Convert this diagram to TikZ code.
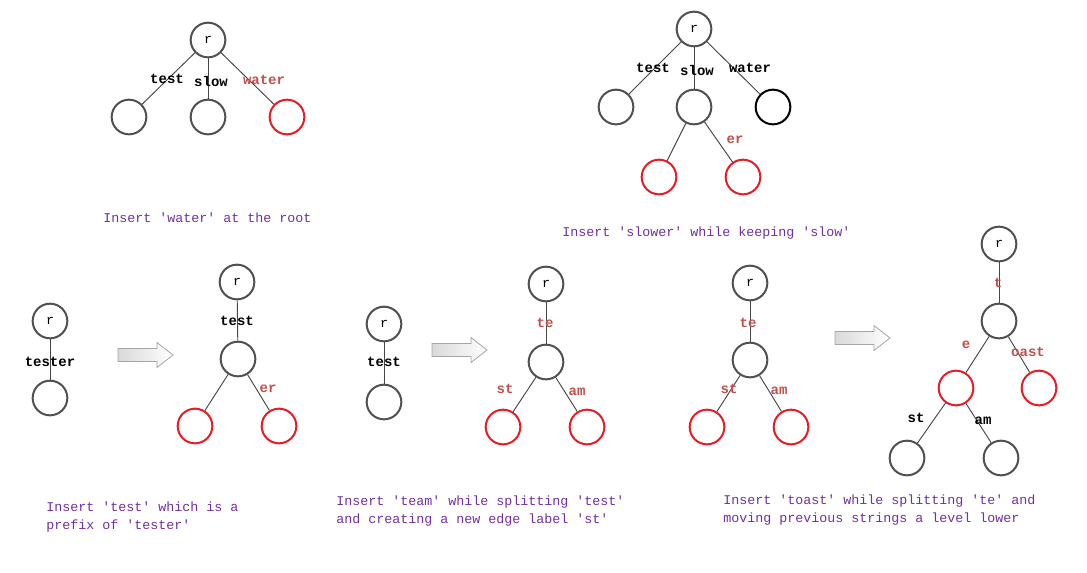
\documentclass[tikz,border=0pt]{standalone}
\usepackage{fontspec}
\setmonofont{Liberation Mono}
\usetikzlibrary{shadings}
\definecolor{nodegray}{RGB}{80,80,80}
\definecolor{nodered}{RGB}{232,28,36}
\definecolor{labred}{RGB}{192,80,77}
\definecolor{captpurple}{RGB}{112,48,160}
\definecolor{edgegray}{RGB}{70,70,70}
\newcommand\fatarrow[2]{%
  \draw[gray!70, line width=0.6pt, left color=gray!30, right color=white]
    (#1,#2-6.5) -- (#1+39,#2-6.5) -- (#1+39,#2-12.5) -- (#1+55,#2)
    -- (#1+39,#2+12.5) -- (#1+39,#2+6.5) -- (#1,#2+6.5) -- cycle;}
\begin{document}
\begin{tikzpicture}[x=0.75pt,y=-0.75pt,
  tn/.style={circle, draw=nodegray, line width=1.5pt, minimum size=26pt, inner sep=0pt, font=\ttfamily\fontsize{10}{12}\selectfont},
  rn/.style={tn, draw=nodered},
  bn/.style={tn, draw=black},
  ed/.style={draw=edgegray, line width=0.7pt},
  lab/.style={font=\ttfamily\bfseries\fontsize{10.5}{12}\selectfont, text=black, inner sep=0pt},
  rlab/.style={lab, text=labred},
  captxt/.style={font=\ttfamily\fontsize{10}{13.5}\selectfont, text=captpurple, anchor=west, align=left, inner sep=0pt}]
\useasboundingbox (0,0) rectangle (1087,572);
% ---- Tree 1
\node[tn] (a0) at (208,40) {r};
\node[tn] (a1) at (129,117) {};
\node[tn] (a2) at (208,117) {};
\node[rn] (a3) at (287,117) {};
\draw[ed] (a0) -- (a1); \draw[ed] (a0) -- (a2); \draw[ed] (a0) -- (a3);
\node[lab] (la1) at (167,79) {test};
\node[lab] (la2) at (211,81) {slow};
\node[rlab] (la3) at (264,80) {water};
\node[captxt] (c1) at (103,218) {Insert 'water' at the root};
% ---- Tree 2
\node[tn] (b0) at (694,29) {r};
\node[tn] (b1) at (616,107) {};
\node[tn] (b2) at (694,107) {};
\node[bn] (b3) at (773,107) {};
\node[rn] (b4) at (659,177) {};
\node[rn] (b5) at (743,177) {};
\draw[ed] (b0) -- (b1); \draw[ed] (b0) -- (b2); \draw[ed] (b0) -- (b3);
\draw[ed] (b2) -- (b4); \draw[ed] (b2) -- (b5);
\node[lab] (lb1) at (653,68) {test};
\node[lab] (lb2) at (697,70) {slow};
\node[lab] (lb3) at (750,68) {water};
\node[rlab] (lb4) at (735,140) {er};
\node[captxt] (c2) at (562,233) {Insert 'slower' while keeping 'slow'};
% ---- Tree 3
\node[tn] (c0n) at (50,321) {r};
\node[tn] (c1n) at (50,398) {};
\draw[ed] (c0n) -- (c1n);
\node[lab] (lc1) at (50,362) {tester};
\fatarrow{118}{355}
% ---- Tree 4
\node[tn] (d0) at (237,282) {r};
\node[tn] (d1) at (238,359) {};
\node[rn] (d2) at (195,426) {};
\node[rn] (d3) at (279,426) {};
\draw[ed] (d0) -- (d1); \draw[ed] (d1) -- (d2); \draw[ed] (d1) -- (d3);
\node[lab] (ld1) at (237,321) {test};
\node[rlab] (ld2) at (268,389) {er};
\node[captxt] (c3) at (46,517) {Insert 'test' which is a\\prefix of 'tester'};
% ---- Tree 5
\node[tn] (e0) at (384,324) {r};
\node[tn] (e1) at (384,402) {};
\draw[ed] (e0) -- (e1);
\node[lab] (le1) at (384,362) {test};
\fatarrow{432}{350}
% ---- Tree 6
\node[tn] (f0) at (546,284) {r};
\node[tn] (f1) at (546,362) {};
\node[rn] (f2) at (503,427) {};
\node[rn] (f3) at (587,427) {};
\draw[ed] (f0) -- (f1); \draw[ed] (f1) -- (f2); \draw[ed] (f1) -- (f3);
\node[rlab] (lf1) at (545,323) {te};
\node[rlab] (lf2) at (505,389) {st};
\node[rlab] (lf3) at (577,392) {am};
\node[captxt] (c4) at (336,511) {Insert 'team' while splitting 'test'\\and creating a new edge label 'st'};
% ---- Tree 7
\node[tn] (g0) at (750,283) {r};
\node[tn] (g1) at (750,360) {};
\node[rn] (g2) at (707,427) {};
\node[rn] (g3) at (791,427) {};
\draw[ed] (g0) -- (g1); \draw[ed] (g1) -- (g2); \draw[ed] (g1) -- (g3);
\node[rlab] (lg1) at (748,323) {te};
\node[rlab] (lg2) at (729,389) {st};
\node[rlab] (lg3) at (779,391) {am};
\fatarrow{835}{338}
% ---- Tree 8
\node[tn] (h0) at (999,244) {r};
\node[tn] (h1) at (999,321) {};
\node[rn] (h2) at (956,388) {};
\node[rn] (h3) at (1039,388) {};
\node[tn] (h4) at (907,458) {};
\node[tn] (h5) at (1001,458) {};
\draw[ed] (h0) -- (h1); \draw[ed] (h1) -- (h2); \draw[ed] (h1) -- (h3);
\draw[ed] (h2) -- (h4); \draw[ed] (h2) -- (h5);
\node[rlab] (lh1) at (998,283) {t};
\node[rlab] (lh2) at (966,345) {e};
\node[rlab] (lh3) at (1028,352) {oast};
\node[lab] (lh4) at (916,418) {st};
\node[lab] (lh5) at (983,421) {am};
\node[captxt] (c5) at (723,510) {Insert 'toast' while splitting 'te' and\\moving previous strings a level lower};
\end{tikzpicture}
\end{document}
